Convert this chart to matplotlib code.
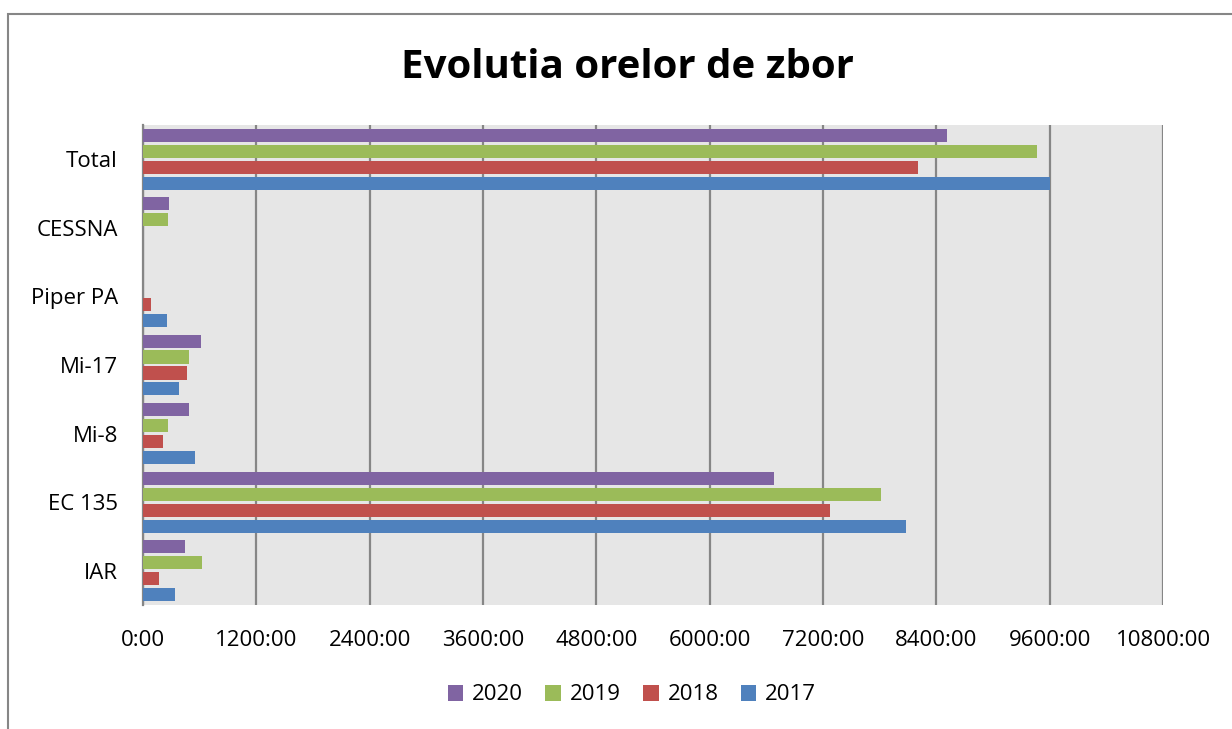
import numpy as np
import matplotlib.pyplot as plt
from matplotlib.patches import Rectangle
from matplotlib.ticker import FuncFormatter, MultipleLocator

plt.rcParams['font.family'] = ['Open Sans', 'DejaVu Sans']

# date (ore de zbor), de jos in sus
categories = ["IAR", "EC 135", "Mi-8", "Mi-17", "Piper PA", "CESSNA", "Total"]
years = ["2017", "2018", "2019", "2020"]
h2017 = [335, 8082, 547, 377, 257, 0, 9606]
h2018 = [169, 7270, 215, 466, 85, 0, 8205]
h2019 = [628, 7817, 261, 487, 0, 265, 9461]
h2020 = [441, 6681, 483, 617, 0, 279, 8508]
colors = ["#4F81BD", "#C0504D", "#9BBB59", "#8064A2"]

fig = plt.figure(figsize=(12.32, 7.29), dpi=100)
ax = fig.add_axes([143 / 1232, 1 - 605 / 729, 1020 / 1232, 480 / 729])

y = np.arange(len(categories))
slot = 0.233
series = [h2017, h2018, h2019, h2020]
for k, (vals, col) in enumerate(zip(series, colors)):
    ax.barh(y + (k - 1.5) * slot, vals, height=0.19, color=col, label=years[k], zorder=3)

ax.set_facecolor("#E6E6E6")
ax.set_xlim(0, 10800)
ax.set_ylim(-0.5, len(categories) - 0.5)
ax.xaxis.set_major_locator(MultipleLocator(1200))
ax.xaxis.set_major_formatter(FuncFormatter(lambda v, p: f"{int(v)}:00"))
ax.grid(axis="x", color="#868686", linewidth=1.6, zorder=0)
ax.set_yticks(y)
ax.set_yticklabels(categories)
ax.tick_params(axis="both", length=0, labelsize=16)
ax.tick_params(axis="x", pad=18)
ax.tick_params(axis="y", pad=18)
for s in ["top", "right", "bottom"]:
    ax.spines[s].set_visible(False)
ax.spines["left"].set_color("#868686")
ax.spines["left"].set_linewidth(1.6)

fig.text(627 / 1232, 1 - 67 / 729, "Evolutia orelor de zbor", ha="center", va="center",
         fontsize=29, fontweight="bold")

handles, labels = ax.get_legend_handles_labels()
fig.legend(handles[::-1], labels[::-1], loc="center", bbox_to_anchor=(632 / 1232, 1 - 695 / 729),
           ncol=4, frameon=False, fontsize=16, handlelength=0.7, handleheight=0.7,
           handletextpad=0.4, columnspacing=1.0)

fig.patches.append(Rectangle((8 / 1232, -0.1), 1.2, 1.1 - 14 / 729, transform=fig.transFigure,
                             fill=False, edgecolor="#868686", linewidth=1.5, clip_on=False))

fig.savefig("out.png", dpi=100)
